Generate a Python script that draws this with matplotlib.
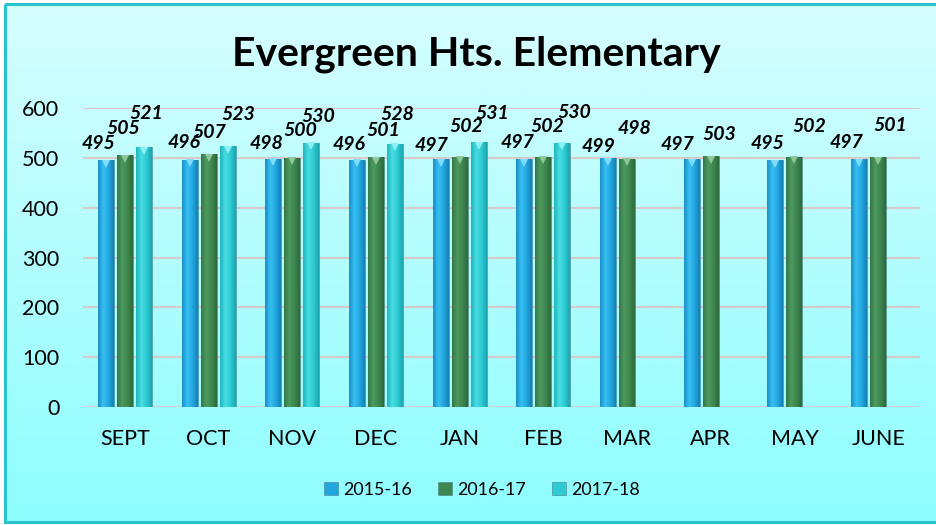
import numpy as np
import matplotlib
matplotlib.use('Agg')
import matplotlib.pyplot as plt
from matplotlib.colors import LinearSegmentedColormap
from matplotlib.patches import Rectangle

# ---------------- data ----------------
months = ['SEPT', 'OCT', 'NOV', 'DEC', 'JAN', 'FEB', 'MAR', 'APR', 'MAY', 'JUNE']
series_names = ['2015-16', '2016-17', '2017-18']
v1516 = [495, 496, 498, 496, 497, 497, 499, 497, 495, 497]
v1617 = [505, 507, 500, 501, 502, 502, 498, 503, 502, 501]
v1718 = [521, 523, 530, 528, 531, 530, None, None, None, None]
yticks = [0, 100, 200, 300, 400, 500, 600]
title = 'Evergreen Hts. Elementary'

# label offsets in pixels relative to bar top centre (manual placement)
dx1516 = [-7, -6, -7, -8, -9, -7, -10, -14, -8, -13]
dy1516 = [17, 17, 15, 15, 14, 17, 12, 15, 17, 17]
dx1617 = [-2, 1, 8, 7, 7, 4, 7, 9, 15, 12]
dy1617 = [27, 22, 27, 27, 30, 30, 30, 22, 30, 32]
dx1718 = [2, 11, 7, 2, 14, 12]
dy1718 = [34, 32, 26, 29, 29, 30]

plt.rcParams['font.family'] = ['Lato', 'DejaVu Sans']

W, H = 937, 525
fig = plt.figure(figsize=(W / 100, H / 100), dpi=100)
fig.patch.set_facecolor('white')

# background panel with vertical gradient
bg = fig.add_axes([0, 0, 1, 1], zorder=-10)
bg.set_xlim(0, W)
bg.set_ylim(H, 0)
bg.axis('off')
bg_cmap = LinearSegmentedColormap.from_list('bg', ['#D6FEFE', '#8EFDFE'])
grad = np.linspace(0, 1, 256).reshape(-1, 1)
bg.imshow(grad, cmap=bg_cmap, extent=(5, W + 5, 522, 4), aspect='auto')
bg.add_patch(Rectangle((5, 4), W, 518, fill=False, edgecolor='#27C3CE', linewidth=2.2))
bg.set_xlim(0, W)
bg.set_ylim(H, 0)

ax = fig.add_axes([83 / W, 1 - 407 / H, (920 - 83) / W, (407 - 108) / H])
ax.set_facecolor('none')

x = np.arange(len(months))
width = 0.19
pitch = 0.227

base_colors = ['#22A6DD', '#3E8850', '#2CCBD3']
grad_colors = [
    ['#1A8FC6', '#37C0F2', '#22A8E0', '#1680B5'],
    ['#35774A', '#4E9A5E', '#3E8650', '#2D6A3C'],
    ['#20B4BE', '#48DDE3', '#2CCBD3', '#1CA4AE'],
]
cap_colors = ['#7FDDFA', '#8FC79A', '#8FF0F3']

series = [v1516, v1617, v1718]
dxs = [dx1516, dx1617, dx1718]
dys = [dy1516, dy1617, dy1718]
handles = []
for i, (vals, name) in enumerate(zip(series, series_names)):
    idx = [j for j, v in enumerate(vals) if v is not None]
    xs = x[idx] + (i - 1) * pitch
    hs = [vals[j] for j in idx]
    bars = ax.bar(xs, hs, width, color=base_colors[i], edgecolor='#4A7F8A',
                  linewidth=0.4, zorder=3, label=name)
    handles.append(bars)
    cmap = LinearSegmentedColormap.from_list('g%d' % i, grad_colors[i])
    g = np.linspace(0, 1, 64).reshape(1, -1)
    for b in bars:
        x0, y0, w, h = b.get_x(), b.get_y(), b.get_width(), b.get_height()
        im = ax.imshow(g, cmap=cmap, extent=(x0, x0 + w, y0, y0 + h),
                       aspect='auto', zorder=3.5, interpolation='bilinear')
        im.set_clip_path(b)
    # light top cap
    ax.plot(xs, np.array(hs) - 7, linestyle='none', marker='v', markersize=6,
            color=cap_colors[i], markeredgewidth=0, zorder=4)
    for k, (xx, hh) in enumerate(zip(xs, hs)):
        ax.annotate(str(hh), (xx, hh), xytext=(dxs[i][k], dys[i][k]),
                    textcoords='offset pixels', ha='center', va='center',
                    fontsize=14, fontweight='bold', fontstyle='italic',
                    color='black', zorder=6)

ax.set_xlim(-0.5, len(months) - 0.5)
ax.set_ylim(0, 600)
ax.set_yticks(yticks)
ax.set_xticks(x)
ax.set_xticklabels(months)
ax.tick_params(axis='both', length=0, labelsize=15.5, colors='black')
ax.tick_params(axis='x', pad=16)
ax.tick_params(axis='y', pad=17)
ax.grid(axis='y', color='#D9CACA', linewidth=1.5, zorder=0)
for s in ax.spines.values():
    s.set_visible(False)
ax.axhline(0, color='#D0D0D0', linewidth=1.5, zorder=2)

fig.text(476 / W, 1 - 54 / H, title, ha='center', va='center',
         fontsize=29.5, fontweight='bold', color='black')

fig.legend(handles=handles, labels=series_names, loc='center',
           bbox_to_anchor=(482 / W, 1 - 490 / H), ncol=3, frameon=False,
           fontsize=12.8, handlelength=0.75, handleheight=0.75,
           handletextpad=0.3, columnspacing=1.5)

fig.savefig('out.png', dpi=100)
